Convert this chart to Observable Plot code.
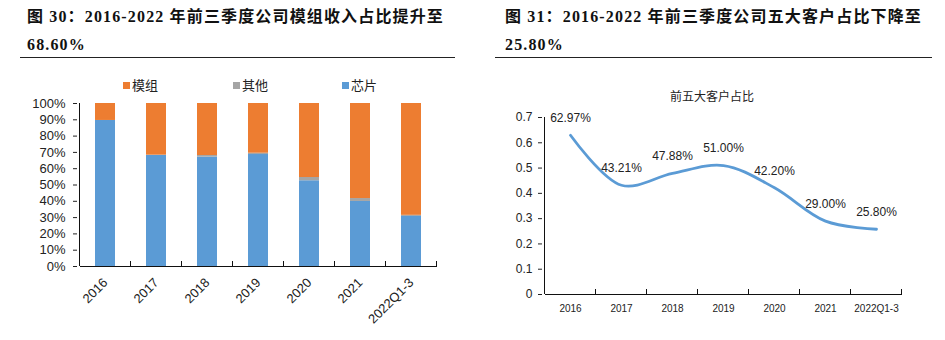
<!DOCTYPE html>
<html>
<head>
<meta charset="utf-8">
<script src="https://cdn.jsdelivr.net/npm/d3@7"></script>
<script src="https://cdn.jsdelivr.net/npm/@observablehq/plot@0.6"></script>
<style>
  html, body { margin: 0; padding: 0; background: #fff; }
  body { width: 945px; height: 340px; position: relative; overflow: hidden; font-family: "Liberation Sans", Arial, sans-serif; }
  .title { position: absolute; top: 3px; font-family: "Liberation Serif", "Times New Roman", "Noto Sans CJK SC", serif; font-weight: bold; font-size: 16px; line-height: 28px; color: #111; letter-spacing: 1.15px; white-space: nowrap; }
  .rule { position: absolute; top: 57px; height: 0; border-top: 1.5px solid #222; }
  .legend { position: absolute; top: 78px; font-size: 13px; color: #222; line-height: 16px; font-family: "Liberation Sans", Arial, "Noto Sans CJK SC", sans-serif; }
  .legend span.sw { display: inline-block; width: 7px; height: 7px; margin-right: 2px; vertical-align: 1px; }
  .ctitle { position: absolute; top: 87px; left: 612px; width: 200px; text-align: center; font-size: 12px; color: #222; font-family: "Liberation Sans", Arial, "Noto Sans CJK SC", sans-serif; }
  #left, #right { position: absolute; top: 60px; }
  #left { left: 0; }
  #right { left: 470px; }
</style>
</head>
<body>
<div class="title" style="left:27px">图 30：2016-2022 年前三季度公司模组收入占比提升至<br>68.60%</div>
<div class="rule" style="left:20px; width:435px"></div>
<div class="title" style="left:505px">图 31：2016-2022 年前三季度公司五大客户占比下降至<br>25.80%</div>
<div class="rule" style="left:495px; width:437px"></div>
<div id="legend"></div>
<div class="ctitle">前五大客户占比</div>
<div id="left"></div>
<div id="right"></div>
<script>
// ---- data ----
const years = ["2016", "2017", "2018", "2019", "2020", "2021", "2022Q1-3"];
const seriesNames = ["芯片", "其他", "模组"];
const seriesColors = ["#5B9BD5", "#A5A5A5", "#ED7D31"];
const chipShare = [89.6, 68.1, 67.1, 68.7, 52.6, 39.9, 30.7];
const otherShare = [0.0, 0.2, 1.0, 0.8, 2.0, 1.8, 0.7];
const moduleShare = [10.4, 31.7, 31.9, 30.5, 45.4, 58.3, 68.6];
const leftTicks = [0, 10, 20, 30, 40, 50, 60, 70, 80, 90, 100];
const top5Share = [0.6297, 0.4321, 0.4788, 0.5100, 0.4220, 0.2900, 0.2580];
const rightTicks = [0, 0.1, 0.2, 0.3, 0.4, 0.5, 0.6, 0.7];

// legend (display order)
const legendItems = [
  {name: "模组", color: "#ED7D31", left: 123},
  {name: "其他", color: "#A5A5A5", left: 233},
  {name: "芯片", color: "#5B9BD5", left: 342}
];
const lg = document.getElementById("legend");
legendItems.forEach(it => {
  const d = document.createElement("div");
  d.className = "legend";
  d.style.left = it.left + "px";
  d.innerHTML = `<span class="sw" style="background:${it.color}"></span>${it.name}`;
  lg.appendChild(d);
});

const rows = [];
years.forEach((y, i) => {
  rows.push({year: y, series: "芯片", value: chipShare[i]});
  rows.push({year: y, series: "其他", value: otherShare[i]});
  rows.push({year: y, series: "模组", value: moduleShare[i]});
});

const baseStyle = {fontFamily: "Liberation Sans, Arial, sans-serif", color: "#222", background: "transparent", overflow: "visible"};

const left = Plot.plot({
  width: 470, height: 280,
  marginLeft: 77, marginRight: 31, marginTop: 43, marginBottom: 74,
  style: {...baseStyle, fontSize: "13px"},
  x: {domain: years, paddingInner: 0.6, paddingOuter: 0.3, label: null, tickSize: 0, tickRotate: -45, tickPadding: 14},
  y: {domain: [0, 100], ticks: leftTicks, tickFormat: d => d + "%", label: null, tickSize: 4, tickPadding: 8},
  color: {domain: seriesNames, range: seriesColors},
  marks: [
    Plot.barY(rows, {x: "year", y: "value", fill: "series", order: seriesNames})
  ]
});
document.getElementById("left").appendChild(left);

const right = Plot.plot({
  width: 475, height: 280,
  marginLeft: 72, marginRight: 42, marginTop: 57, marginBottom: 46,
  style: {...baseStyle, fontSize: "12px"},
  x: {type: "point", domain: years, padding: 0.5, label: null, tickSize: 0, tickPadding: 9},
  y: {domain: [0, 0.7], ticks: rightTicks, tickFormat: d => d === 0 ? "0" : d.toFixed(1), label: null, tickSize: 4, tickPadding: 6},
  marks: [
    Plot.axisX({tickSize: 0, tickPadding: 10, fontSize: 10, letterSpacing: "0.3px"}),
    Plot.axisY({ticks: rightTicks, tickFormat: d => d === 0 ? "0" : d.toFixed(1), tickSize: 4, tickPadding: 6}),
    Plot.line(years.map((y, i) => ({year: y, v: top5Share[i]})), {x: "year", y: "v", curve: "catmull-rom", stroke: "#5B9BD5", strokeWidth: 2.8}),
    Plot.text(years.map((y, i) => ({year: y, v: top5Share[i]})), {x: "year", y: "v", text: d => (d.v * 100).toFixed(2) + "%", dy: -17, fontSize: 12, fill: "#222"})
  ]
});
document.getElementById("right").appendChild(right);

// axis lines and boundary ticks from the plots' own scales
function decorate(chart, isBand) {
  const sx = chart.scale("x"), sy = chart.scale("y");
  const svg = d3.select(chart.tagName.toLowerCase() === "svg" ? chart : chart.querySelector("svg"));
  const yb = sy.apply(sy.domain[0]), yt = sy.apply(sy.domain[1]);
  const c0 = sx.apply(years[0]), c1 = sx.apply(years[1]);
  const step = c1 - c0;
  const offset = isBand ? -(step - sx.bandwidth) / 2 : -step / 2;
  const bounds = years.map(y => sx.apply(y) + offset);
  bounds.push(bounds[bounds.length - 1] + step);
  const g = svg.append("g").attr("stroke", "#111").attr("stroke-width", 1).attr("shape-rendering", "crispEdges");
  g.append("line").attr("x1", bounds[0]).attr("x2", bounds[0]).attr("y1", yt).attr("y2", yb);
  g.append("line").attr("x1", bounds[0]).attr("x2", bounds[bounds.length - 1]).attr("y1", yb).attr("y2", yb);
  bounds.forEach(b => g.append("line").attr("x1", b).attr("x2", b).attr("y1", yb).attr("y2", yb - 5));
}
decorate(left, true);
decorate(right, false);
</script>
</body>
</html>
